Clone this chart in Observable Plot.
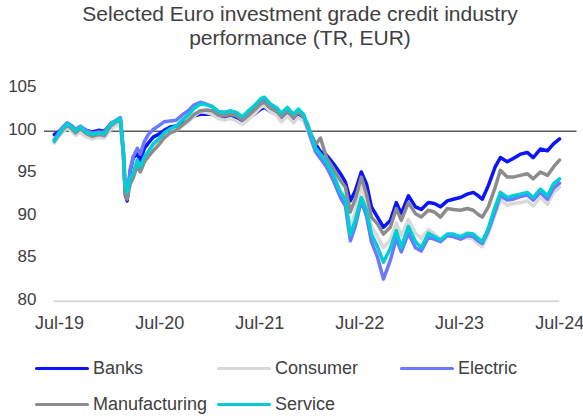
<!DOCTYPE html>
<html><head><meta charset="utf-8">
<script src="https://cdn.jsdelivr.net/npm/d3@7"></script>
<script src="https://cdn.jsdelivr.net/npm/@observablehq/plot@0.6"></script>
<style>
body{margin:0;background:#fff;font-family:"Liberation Sans",Arial,sans-serif;color:#404040;}
#wrap{width:583px;height:418px;position:relative;overflow:hidden;}
#title{height:50px;box-sizing:border-box;padding-top:2px;padding-left:17px;text-align:center;font-size:21px;line-height:23.5px;}
#chart svg{display:block;}
#legend{position:relative;height:68px;}
.item{position:absolute;display:flex;align-items:center;font-size:18px;line-height:21px;white-space:nowrap;}
.sw{width:54px;height:3px;margin-right:4px;border-radius:1.5px;}
</style></head><body>
<div id="wrap"><div id="title">Selected Euro investment grade credit industry<br>performance (TR, EUR)</div><div id="chart"></div><div id="legend"></div></div>
<script>
const dates = [
 "2019-06-12","2019-06-27","2019-07-11","2019-07-29","2019-08-17","2019-08-28","2019-09-15","2019-10-07","2019-10-29","2019-11-20",
 "2019-12-12","2020-01-03","2020-01-24","2020-02-08","2020-02-19","2020-02-26","2020-03-04","2020-03-15","2020-03-26","2020-04-10",
 "2020-04-21","2020-05-06","2020-05-20","2020-06-07","2020-06-25","2020-07-17","2020-08-08","2020-08-30","2020-09-21","2020-10-13",
 "2020-11-04","2020-11-26","2020-12-18","2021-01-09","2021-01-31","2021-02-22","2021-03-16","2021-04-07","2021-04-29","2021-05-21",
 "2021-06-12","2021-07-04","2021-07-18","2021-08-09","2021-08-31","2021-09-18","2021-10-10","2021-11-01","2021-11-19","2021-12-08",
 "2021-12-22","2022-01-06","2022-01-21","2022-02-08","2022-03-02","2022-03-27","2022-04-22","2022-05-10","2022-05-28","2022-06-15",
 "2022-07-07","2022-07-26","2022-08-13","2022-09-04","2022-09-26","2022-10-21","2022-11-12","2022-11-30","2022-12-26","2023-01-21",
 "2023-02-11","2023-03-09","2023-03-31","2023-04-22","2023-05-17","2023-06-08","2023-07-04","2023-07-29","2023-08-20","2023-09-07",
 "2023-09-22","2023-10-14","2023-11-08","2023-11-27","2023-12-22","2024-01-13","2024-02-08","2024-03-04","2024-03-26","2024-04-21",
 "2024-05-17","2024-06-08","2024-06-30"
];
const banks = [
 99.6, 99.9, 100.3, 100.9, 100.5, 100.1, 100.5, 100.1, 99.9, 100.1,
 100.0, 100.8, 101.2, 101.4, 97.3, 92.5, 91.8, 95.3, 96.9, 97.3,
 96.6, 98.0, 98.6, 99.3, 99.6, 100.1, 100.5, 100.6, 100.9, 101.2,
 101.8, 102.0, 102.0, 102.0, 101.8, 101.6, 101.7, 101.6, 101.2, 101.6,
 102.0, 102.6, 102.8, 102.3, 102.0, 101.5, 102.1, 101.4, 101.9, 101.5,
 100.6, 99.5, 98.5, 97.6, 97.2, 96.2, 95.0, 94.0, 91.8, 93.0,
 95.2, 93.8, 91.1, 89.9, 88.7, 89.5, 91.6, 90.3, 92.4, 91.1,
 90.8, 91.6, 91.5, 91.1, 91.8, 92.0, 92.2, 92.6, 92.8, 92.4,
 92.0, 93.6, 95.8, 96.9, 96.4, 96.8, 97.3, 97.5, 96.9, 97.9,
 97.7, 98.5, 99.1
];
const consumer = [
 98.6, 99.3, 99.8, 100.4, 99.9, 99.5, 99.9, 99.3, 99.1, 99.3,
 99.2, 100.2, 100.7, 100.9, 97.2, 93.2, 92.6, 94.2, 94.8, 96.2,
 95.6, 96.6, 97.2, 98.0, 98.6, 99.3, 99.8, 100.1, 100.6, 101.1,
 101.8, 102.3, 102.2, 102.0, 101.5, 101.3, 101.5, 101.2, 100.8, 101.4,
 102.0, 102.8, 103.0, 102.3, 101.9, 101.1, 101.8, 101.0, 101.6, 101.2,
 100.2, 98.8, 97.5, 96.8, 96.0, 94.6, 93.0, 92.4, 88.6, 90.5,
 93.6, 91.6, 88.8, 87.6, 86.3, 87.2, 89.2, 87.7, 89.6, 88.0,
 87.4, 88.4, 87.9, 87.3, 87.8, 87.6, 87.3, 87.5, 87.3, 86.7,
 86.4, 87.9, 90.3, 91.9, 91.3, 91.5, 91.6, 91.8, 91.2, 92.2,
 91.4, 92.8, 93.4
];
const electric = [
 99.0, 99.8, 100.4, 101.0, 100.6, 100.2, 100.6, 100.1, 99.8, 99.9,
 99.9, 100.9, 101.3, 101.6, 97.6, 93.0, 92.3, 95.5, 97.0, 98.0,
 97.3, 98.8, 99.6, 100.2, 100.6, 101.1, 101.2, 101.3, 101.9, 102.4,
 103.1, 103.4, 103.2, 102.9, 102.3, 102.2, 102.3, 102.1, 101.6, 102.3,
 102.9, 103.6, 103.8, 103.0, 102.6, 101.9, 102.6, 101.8, 102.4, 101.8,
 100.5, 99.0, 97.6, 96.8, 95.8, 94.2, 92.2, 91.2, 87.1, 88.8,
 91.8, 90.0, 87.0, 85.2, 82.6, 84.8, 87.4, 85.8, 88.0, 86.3,
 85.9, 87.5, 87.3, 87.0, 87.7, 87.6, 87.3, 87.7, 87.6, 87.1,
 86.8, 88.3, 90.6, 92.4, 91.9, 92.0, 92.3, 92.5, 91.9, 92.8,
 92.0, 93.3, 93.9
];
const manufacturing = [
 98.9, 99.5, 100.1, 100.7, 100.2, 99.8, 100.3, 99.7, 99.4, 99.6,
 99.5, 100.6, 101.1, 101.3, 97.4, 92.6, 92.0, 93.8, 94.5, 96.0,
 95.2, 96.4, 97.0, 97.7, 98.3, 99.2, 99.8, 100.1, 100.7, 101.3,
 102.0, 102.4, 102.5, 102.4, 101.9, 101.8, 102.0, 101.8, 101.3, 101.9,
 102.5, 103.2, 103.4, 102.7, 102.4, 101.7, 102.4, 101.6, 102.2, 101.7,
 100.9, 99.5, 98.4, 99.2, 96.9, 95.6, 94.2, 93.4, 90.5, 92.0,
 94.6, 92.6, 89.9, 89.1, 87.9, 88.7, 90.9, 89.5, 91.6, 90.3,
 89.9, 90.7, 90.5, 89.9, 90.9, 90.8, 90.7, 90.9, 90.7, 90.2,
 89.9, 91.1, 93.4, 95.4, 94.6, 94.6, 94.8, 95.0, 94.4, 95.2,
 94.8, 95.8, 96.6
];
const service = [
 98.8, 99.6, 100.2, 100.9, 100.4, 100.0, 100.5, 99.9, 99.6, 99.8,
 99.7, 100.8, 101.2, 101.5, 97.8, 93.5, 92.8, 94.5, 95.0, 96.6,
 95.8, 97.0, 97.6, 98.5, 99.0, 99.8, 100.3, 100.6, 101.3, 101.9,
 102.7, 103.2, 103.1, 102.9, 102.3, 102.2, 102.4, 102.2, 101.7, 102.4,
 103.0, 103.8, 104.0, 103.2, 102.8, 102.1, 102.8, 102.0, 102.6, 102.0,
 100.8, 99.4, 98.0, 97.3, 96.4, 94.9, 92.8, 92.0, 87.8, 89.5,
 92.2, 90.7, 87.9, 86.4, 84.6, 86.2, 88.3, 86.3, 88.8, 87.0,
 86.3, 88.0, 87.6, 87.2, 87.9, 87.9, 87.6, 88.0, 87.9, 87.4,
 87.0, 88.6, 91.1, 92.8, 92.2, 92.4, 92.6, 92.8, 92.2, 93.2,
 92.4, 93.8, 94.4
];
const seriesNames = ["Banks", "Consumer", "Electric", "Manufacturing", "Service"];
const seriesColors = ["#0a14ff", "#d9d9d9", "#6b78ff", "#8c8c8c", "#00cdd4"];
const seriesValues = [banks, consumer, electric, manufacturing, service];
const xTicks = ["2019-07-01", "2020-07-01", "2021-07-01", "2022-07-01", "2023-07-01", "2024-07-01"];
const yTicks = [80, 85, 90, 95, 100, 105];
const xStart = "2019-06-10", xEnd = "2024-07-01";
const refStart = "2019-05-07", refEnd = "2024-09-02";

const parse = d3.utcParse("%Y-%m-%d");
const rows = seriesNames.flatMap((name, i) =>
  dates.map((d, j) => ({series: name, date: parse(d), value: seriesValues[i][j]})));

const chart = Plot.plot({
  width: 583, height: 300,
  marginLeft: 53.3, marginRight: 23.7, marginTop: 38.2, marginBottom: 49.3,
  style: {fontFamily: "'Liberation Sans', Arial, sans-serif", color: "#404040", background: "transparent", overflow: "visible"},
  x: {type: "utc", domain: [parse(xStart), parse(xEnd)]},
  y: {domain: [80, 105]},
  color: {domain: seriesNames, range: seriesColors},
  marks: [
    Plot.ruleY([80], {stroke: "#d9d9d9", strokeWidth: 2}),
    Plot.ruleY([100], {x1: () => parse(refStart), x2: () => parse(refEnd), stroke: "#595959", strokeWidth: 1.5}),
    Plot.line(rows, {x: "date", y: "value", z: "series", stroke: "series", strokeWidth: 3.5, strokeLinejoin: "round", strokeLinecap: "round"}),
    Plot.axisY({ticks: yTicks, tickSize: 0, tickPadding: 17.3, fontSize: 17, dy: -2, label: null}),
    Plot.axisX({ticks: xTicks.map(parse), tickFormat: d3.utcFormat("%b-%y"), tickSize: 0, tickPadding: 15.3, fontSize: 18, label: null})
  ]
});
document.getElementById("chart").appendChild(chart);

const legendPos = [[35, 7.8], [217, 7.8], [400, 7.8], [35, 43.5], [217, 43.5]];
const legend = document.getElementById("legend");
seriesNames.forEach((name, i) => {
  const item = document.createElement("div");
  item.className = "item";
  item.style.left = legendPos[i][0] + "px";
  item.style.top = legendPos[i][1] + "px";
  const sw = document.createElement("span");
  sw.className = "sw";
  sw.style.background = seriesColors[i];
  const label = document.createElement("span");
  label.textContent = name;
  item.appendChild(sw);
  item.appendChild(label);
  legend.appendChild(item);
});
</script></body></html>
